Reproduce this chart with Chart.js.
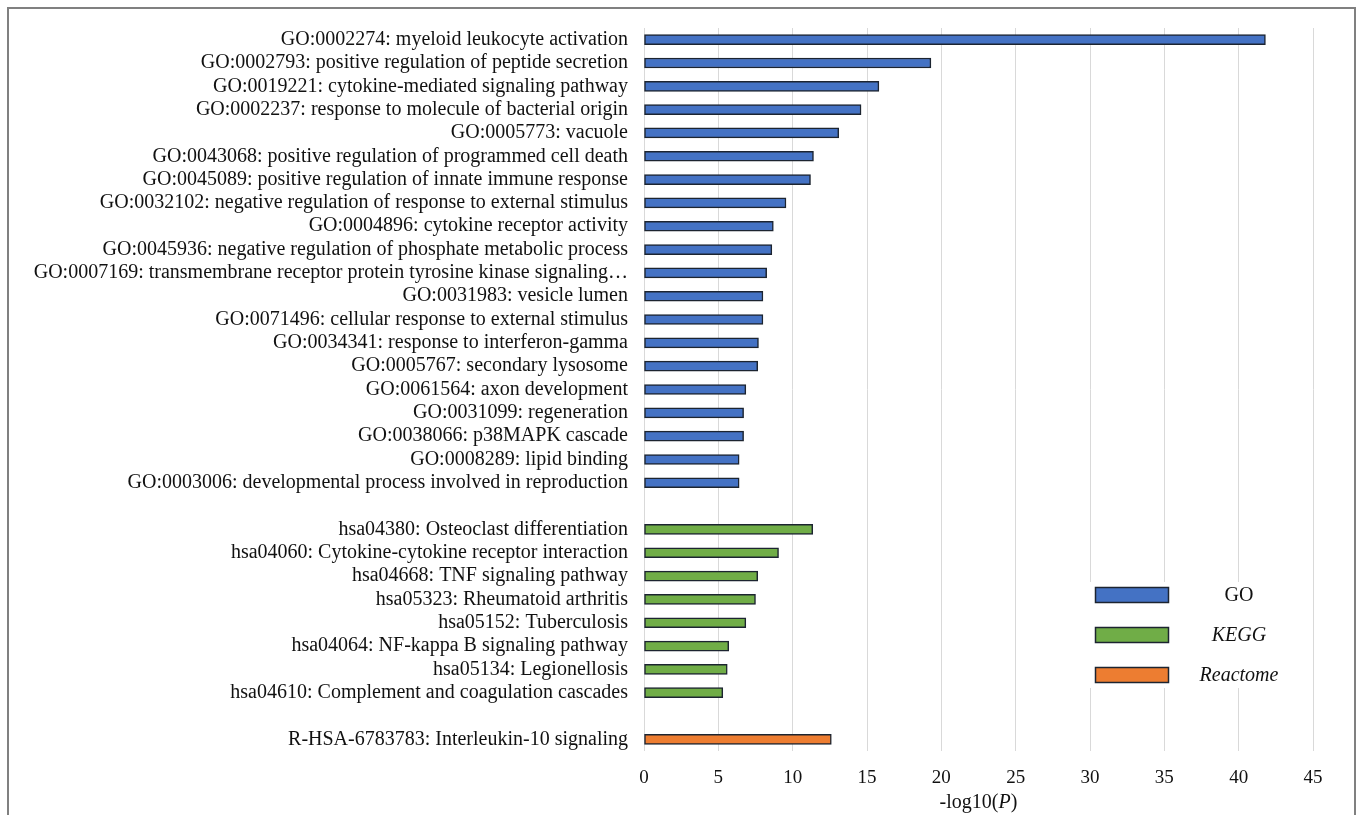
<!DOCTYPE html>
<html>
<head>
<meta charset="utf-8">
<title>Enrichment analysis</title>
<script src="https://cdn.jsdelivr.net/npm/chart.js@4.4.1/dist/chart.umd.min.js"></script>
<style>
  html, body { margin: 0; padding: 0; background: #ffffff; }
  #wrap { position: relative; width: 1360px; height: 815px; }
</style>
</head>
<body>
<div id="wrap"><canvas id="chart" width="1360" height="815"></canvas></div>
<script>
// Enriched terms and their -log10(P) scores, by source
const goLabels = [
  'GO:0002274: myeloid leukocyte activation',
  'GO:0002793: positive regulation of peptide secretion',
  'GO:0019221: cytokine-mediated signaling pathway',
  'GO:0002237: response to molecule of bacterial origin',
  'GO:0005773: vacuole',
  'GO:0043068: positive regulation of programmed cell death',
  'GO:0045089: positive regulation of innate immune response',
  'GO:0032102: negative regulation of response to external stimulus',
  'GO:0004896: cytokine receptor activity',
  'GO:0045936: negative regulation of phosphate metabolic process',
  'GO:0007169: transmembrane receptor protein tyrosine kinase signaling\u2026',
  'GO:0031983: vesicle lumen',
  'GO:0071496: cellular response to external stimulus',
  'GO:0034341: response to interferon-gamma',
  'GO:0005767: secondary lysosome',
  'GO:0061564: axon development',
  'GO:0031099: regeneration',
  'GO:0038066: p38MAPK cascade',
  'GO:0008289: lipid binding',
  'GO:0003006: developmental process involved in reproduction'
];
const goValues = [41.8, 19.3, 15.8, 14.6, 13.1, 11.4, 11.2, 9.55, 8.7, 8.6,
                  8.25, 8.0, 8.0, 7.7, 7.65, 6.85, 6.7, 6.7, 6.4, 6.4];

const keggLabels = [
  'hsa04380: Osteoclast differentiation',
  'hsa04060: Cytokine-cytokine receptor interaction',
  'hsa04668: TNF signaling pathway',
  'hsa05323: Rheumatoid arthritis',
  'hsa05152: Tuberculosis',
  'hsa04064: NF-kappa B signaling pathway',
  'hsa05134: Legionellosis',
  'hsa04610: Complement and coagulation cascades'
];
const keggValues = [11.35, 9.05, 7.65, 7.5, 6.85, 5.7, 5.6, 5.3];

const reactomeLabels = ['R-HSA-6783783: Interleukin-10 signaling'];
const reactomeValues = [12.6];

const xTicks = [0, 5, 10, 15, 20, 25, 30, 35, 40, 45];

const seriesNames = ['GO', 'KEGG', 'Reactome'];
const seriesColors = ['#4472C4', '#70AD47', '#ED7D31'];

// Category list with an empty row between sources
const categories = [...goLabels, '', ...keggLabels, ' ', ...reactomeLabels];
const keggStart = goLabels.length + 1;
const reactomeStart = keggStart + keggLabels.length + 1;

function placeSeries(values, start) {
  const arr = new Array(categories.length).fill(null);
  values.forEach((v, i) => { arr[start + i] = v; });
  return arr;
}

const serif = "'Liberation Serif', 'Times New Roman', serif";
const inkColor = '#111111';
const edgeColor = '#1c2430';

// Outer grey frame
const framePlugin = {
  id: 'frame',
  beforeDraw(chart) {
    const ctx = chart.ctx;
    ctx.save();
    ctx.fillStyle = '#ffffff';
    ctx.fillRect(0, 0, chart.width, chart.height);
    ctx.strokeStyle = '#808080';
    ctx.lineWidth = 2;
    ctx.beginPath();
    ctx.moveTo(8, chart.height + 2);
    ctx.lineTo(8, 8);
    ctx.lineTo(1355, 8);
    ctx.lineTo(1355, chart.height + 2);
    ctx.stroke();
    ctx.restore();
  }
};

// Axis title with italic P
const axisTitlePlugin = {
  id: 'axisTitle',
  afterDraw(chart) {
    const ctx = chart.ctx;
    const area = chart.chartArea;
    const parts = [
      { t: '-log10(', f: '20px ' + serif },
      { t: 'P', f: 'italic 20px ' + serif },
      { t: ')', f: '20px ' + serif }
    ];
    ctx.save();
    let total = 0;
    parts.forEach(p => { ctx.font = p.f; p.w = ctx.measureText(p.t).width; total += p.w; });
    let x = (area.left + area.right) / 2 - total / 2;
    ctx.fillStyle = inkColor;
    ctx.textBaseline = 'middle';
    ctx.textAlign = 'left';
    parts.forEach(p => { ctx.font = p.f; ctx.fillText(p.t, x, 803); x += p.w; });
    ctx.restore();
  }
};

// Legend inside the plot, lower right
const legendPlugin = {
  id: 'innerLegend',
  afterDraw(chart) {
    const ctx = chart.ctx;
    ctx.save();
    ctx.fillStyle = '#ffffff';
    ctx.fillRect(1088, 582, 204, 106);
    const rows = [595, 635, 675];
    chart.data.datasets.forEach((ds, i) => {
      const y = rows[i];
      ctx.fillStyle = ds.backgroundColor;
      ctx.fillRect(1095.5, y - 7.5, 73, 15);
      ctx.strokeStyle = edgeColor;
      ctx.lineWidth = 1.5;
      ctx.strokeRect(1095.5, y - 7.5, 73, 15);
      ctx.fillStyle = inkColor;
      ctx.font = (i === 0 ? '' : 'italic ') + '20px ' + serif;
      ctx.textAlign = 'center';
      ctx.textBaseline = 'middle';
      ctx.fillText(ds.label, 1239, y + 1);
    });
    ctx.restore();
  }
};

const commonBar = {
  grouped: false,
  barThickness: 10,
  borderWidth: 1.5,
  borderColor: edgeColor,
  borderSkipped: false
};

new Chart(document.getElementById('chart'), {
  type: 'bar',
  data: {
    labels: categories,
    datasets: [
      Object.assign({ label: seriesNames[0], data: placeSeries(goValues, 0), backgroundColor: seriesColors[0] }, commonBar),
      Object.assign({ label: seriesNames[1], data: placeSeries(keggValues, keggStart), backgroundColor: seriesColors[1] }, commonBar),
      Object.assign({ label: seriesNames[2], data: placeSeries(reactomeValues, reactomeStart), backgroundColor: seriesColors[2] }, commonBar)
    ]
  },
  options: {
    indexAxis: 'y',
    responsive: false,
    animation: false,
    layout: { padding: { top: 22, right: 47, left: 0, bottom: 0 } },
    plugins: {
      legend: { display: false },
      tooltip: { enabled: false },
      title: { display: false }
    },
    scales: {
      x: {
        type: 'linear',
        min: 0,
        max: 45,
        afterBuildTicks(scale) { scale.ticks = xTicks.map(v => ({ value: v })); },
        afterFit(scale) { scale.height = 64; },
        grid: { color: '#d9d9d9', lineWidth: 1, drawTicks: false },
        border: { display: false },
        ticks: {
          padding: 16,
          color: inkColor,
          font: { family: serif, size: 19 }
        }
      },
      y: {
        afterFit(scale) { scale.width = 644; },
        grid: { display: false, drawTicks: false },
        border: { display: false },
        ticks: {
          autoSkip: false,
          padding: 16,
          color: inkColor,
          font: { family: serif, size: 20 }
        }
      }
    }
  },
  plugins: [framePlugin, axisTitlePlugin, legendPlugin]
});
</script>
</body>
</html>
